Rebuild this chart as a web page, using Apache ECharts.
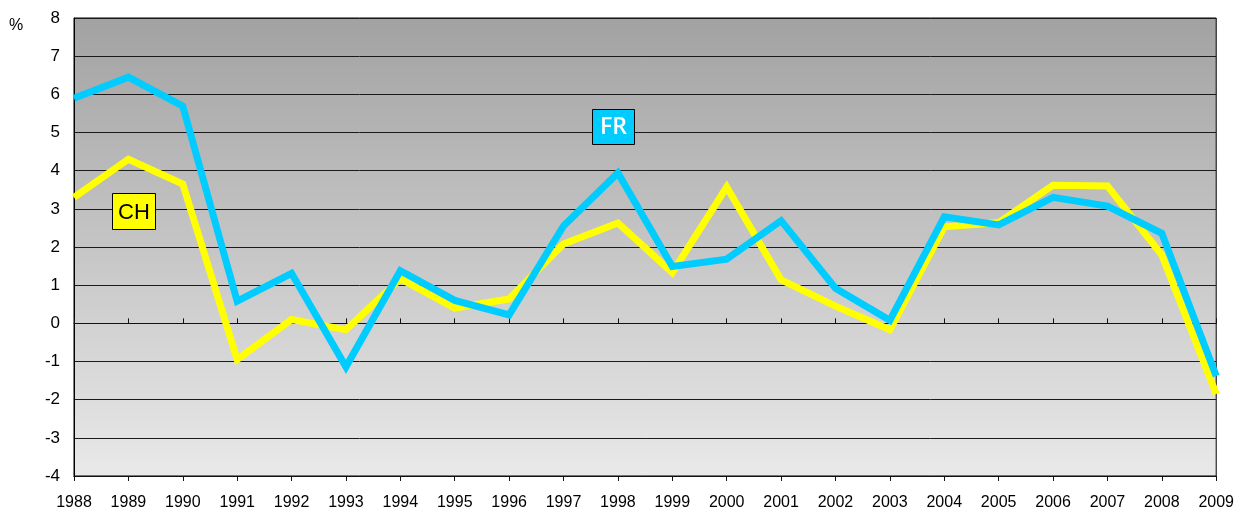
<!DOCTYPE html>
<html>
<head>
<meta charset="utf-8">
<script src="https://cdn.jsdelivr.net/npm/echarts@6/dist/echarts.min.js"></script>
<style>
  html, body { margin: 0; padding: 0; background: #fff; }
  #chart { width: 1237px; height: 511px; }
</style>
</head>
<body>
<div id="chart"></div>
<script>
// 年份
var years = ['1988', '1989', '1990', '1991', '1992', '1993', '1994', '1995', '1996', '1997', '1998',
  '1999', '2000', '2001', '2002', '2003', '2004', '2005', '2006', '2007', '2008', '2009']
// Suisse
var ch = [3.3, 4.3, 3.65, -0.95, 0.1, -0.17, 1.17, 0.4, 0.64, 2.08, 2.63,
  1.33, 3.57, 1.14, 0.45, -0.17, 2.53, 2.64, 3.62, 3.6, 1.79, -1.85]
// France
var fr = [5.9, 6.45, 5.69, 0.58, 1.31, -1.14, 1.38, 0.6, 0.22, 2.55, 3.94,
  1.49, 1.68, 2.69, 0.92, 0.08, 2.79, 2.58, 3.3, 3.07, 2.36, -1.38]
var yTicks = { min: -4, max: 8, interval: 1 }

var font = '"Liberation Sans", Arial, sans-serif'
var chart = echarts.init(document.getElementById('chart'))

var option = {
  animation: false,
  grid: {
    left: 74, right: 19, top: 18, bottom: 34,
    show: true,
    borderColor: '#000',
    borderWidth: 1,
    backgroundColor: new echarts.graphic.LinearGradient(0, 0, 0, 1, [
      { offset: 0, color: '#a2a2a2' },
      { offset: 1, color: '#e9e9e9' }
    ])
  },
  xAxis: [
    {
      type: 'category', data: years, boundaryGap: false, position: 'bottom',
      axisLine: { onZero: false, lineStyle: { color: '#000', width: 1 } },
      axisTick: { show: false },
      axisLabel: { color: '#000', fontFamily: font, fontSize: 16, margin: 19, interval: 0 },
      splitLine: { show: false }
    },
    {
      // 零线上的刻度（上半部分）
      type: 'category', data: years, boundaryGap: false, position: 'bottom',
      axisLine: { onZero: true, lineStyle: { color: '#111', width: 1 } },
      axisTick: { inside: true, length: 5, lineStyle: { color: '#111' } },
      axisLabel: { show: false }
    },
    {
      // 零线上的刻度（下半部分）
      type: 'category', data: years, boundaryGap: false, position: 'bottom',
      axisLine: { onZero: true, lineStyle: { color: '#111', width: 1 } },
      axisTick: { inside: false, length: 5, lineStyle: { color: '#111' } },
      axisLabel: { show: false }
    }
  ],
  yAxis: {
    type: 'value', min: yTicks.min, max: yTicks.max, interval: yTicks.interval,
    axisLine: { show: true, lineStyle: { color: '#000' } },
    axisTick: { show: false },
    axisLabel: { color: '#000', fontFamily: font, fontSize: 17, margin: 14 },
    splitLine: { lineStyle: { color: '#1a1a1a', width: 1 } }
  },
  graphic: [
    { type: 'text', left: 9, top: 18, z: 100, style: { text: '%', fill: '#000', font: '16px ' + font } },
    {
      type: 'group', left: 112, top: 193, z: 100,
      children: [
        { type: 'rect', z: 100, shape: { x: 0, y: 0, width: 43, height: 36 }, style: { fill: '#ffff00', stroke: '#000', lineWidth: 1 } },
        { type: 'text', z: 101, x: 21.5, y: 19, style: { text: 'CH', fill: '#000', font: '22px ' + font, align: 'center', verticalAlign: 'middle' } }
      ]
    },
    {
      type: 'group', left: 592, top: 109, z: 100,
      children: [
        { type: 'rect', z: 100, shape: { x: 0, y: 0, width: 42, height: 35 }, style: { fill: '#00ccff', stroke: '#000', lineWidth: 1 } },
        { type: 'text', z: 101, x: 21, y: 18, style: { text: 'FR', fill: '#fff', font: '600 23px "Open Sans", "DejaVu Sans", sans-serif', align: 'center', verticalAlign: 'middle' } }
      ]
    }
  ],
  series: [
    {
      name: 'CH', type: 'line', data: ch, xAxisIndex: 0,
      showSymbol: false, symbol: 'none',
      lineStyle: { color: '#ffff00', width: 7, join: 'miter' }
    },
    {
      name: 'FR', type: 'line', data: fr, xAxisIndex: 0,
      showSymbol: false, symbol: 'none',
      lineStyle: { color: '#00ccff', width: 7, join: 'miter' }
    }
  ]
}

chart.setOption(option)
</script>
</body>
</html>
